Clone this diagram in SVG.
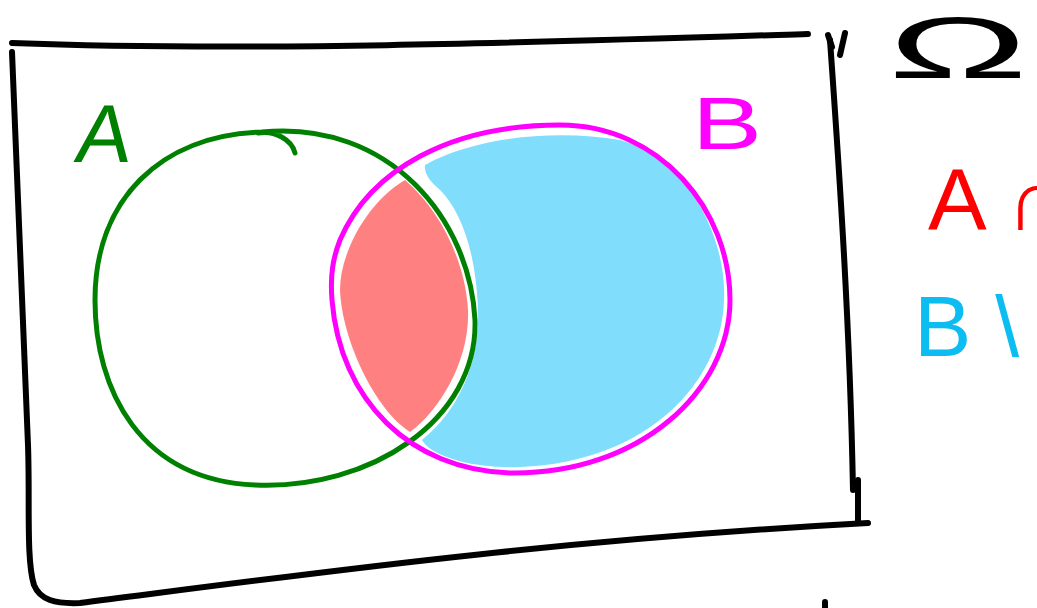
<svg xmlns="http://www.w3.org/2000/svg" width="1037" height="608" viewBox="0 0 1037 608">
<style>
.ink{fill:none;stroke-linecap:round;stroke-linejoin:round}
.frame{stroke:#000;stroke-width:6}
.hand{font-family:"Liberation Sans","DejaVu Sans",sans-serif}
</style>
<rect width="1037" height="608" fill="#fff"/>
<g id="fills">
<path id="b-only" d="M 425,165 C 480,135 560,130 620,140 C 690,160 727,240 724,300 C 722,380 650,462 520,467 C 470,469 430,455 422,440 C 460,410 480,360 478,310 C 476,250 460,210 440,190 C 428,180 424,172 425,165 Z" fill="#80DDFC"/>
<path id="a-and-b" d="M 405,180 C 370,200 340,250 340,290 C 342,340 375,410 410,432 C 440,410 470,360 468,310 C 465,260 440,210 405,180 Z" fill="#FF8080"/>
</g>
<g id="omega-frame" class="ink frame">
<path d="M 12,43 C 250,52 550,42 808,34"/>
<path d="M 12,52 C 18,200 24,330 28,445 C 30,500 26,560 34,585 C 40,600 55,604 80,603 C 300,575 550,540 868,523"/>
<path d="M 830,40 C 840,180 850,330 853,490"/>
<path d="M 858,480 L 858,523"/>
<path d="M 828,35 L 832,47"/>
<path d="M 845,33 L 840,55"/>
<path d="M 825,602 L 825,608"/>
</g>
<g id="set-a">
<path class="ink" d="M 262,132 C 390,120 470,220 475,320 C 478,420 370,490 255,485 C 140,480 95,390 95,300 C 95,200 160,135 262,132 M 258,133 C 275,130 292,140 295,153" stroke="#008000" stroke-width="5"/>
<text class="hand" x="76" y="162" font-size="82" fill="#008000" transform="skewX(-8) translate(20,0)">A</text>
</g>
<g id="set-b">
<path class="ink" d="M 340,240 C 370,170 450,125 560,125 C 660,125 730,210 730,300 C 730,390 640,475 510,473 C 410,470 340,400 332,300 C 330,275 333,258 340,240 Z" stroke="#FF00FF" stroke-width="5"/>
<text class="hand" x="692" y="149" font-size="74" fill="#FF00FF" textLength="70" lengthAdjust="spacingAndGlyphs">B</text>
</g>
<g id="labels">
<text class="hand" x="888" y="78" font-size="88" fill="#000" textLength="140" lengthAdjust="spacingAndGlyphs">Ω</text>
<text class="hand" x="928" y="230" font-size="88" fill="#FF0000">A ∩</text>
<text class="hand" x="914" y="356" font-size="86" fill="#0CBDF2">B \</text>
</g>
</svg>
